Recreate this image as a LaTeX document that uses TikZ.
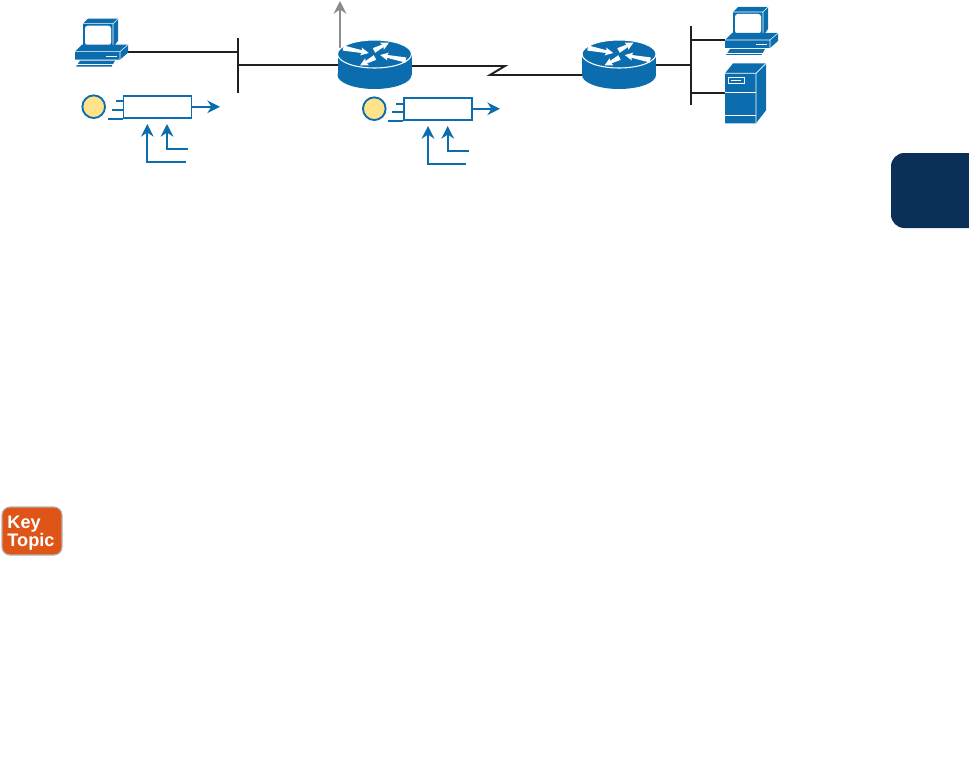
\documentclass[tikz,border=0pt]{standalone}
\usepackage{xcolor}
\usepackage{fontspec}
\setsansfont{Liberation Sans}
\usetikzlibrary{arrows.meta, positioning}
\definecolor{ciscoblue}{HTML}{0B6DAD}
\definecolor{linkblack}{HTML}{231F20}
\definecolor{markyellow}{HTML}{FFE28A}
\definecolor{keyorange}{HTML}{DF5518}
\definecolor{tabnavy}{HTML}{0A3057}
\newcommand{\routerarrow}[4]{
    \fill[white, shift={(#1,#2)}, rotate=#3] (-#4,-2.6) -- (#4-7,-1.4) -- (#4-8,-4) -- (#4,0) -- (#4-8,4) -- (#4-7,1.4) -- (-#4,2.6) -- cycle;
}
\tikzset{
    link/.style = {draw=linkblack, line width=1.45pt},
    flow/.style = {draw=ciscoblue, line width=1.4pt},
    arrow/.style = {flow, -{Stealth[length=9.5pt, width=9.5pt]}},
    uparrow/.style = {draw=black!45, line width=1.4pt, -{Stealth[length=9.5pt, width=9.5pt]}},
    policer/.style = {rectangle, draw=ciscoblue, fill=white, line width=1.4pt, inner sep=0pt, minimum width=51pt, minimum height=16.5pt},
    marker/.style = {circle, draw=ciscoblue, fill=markyellow, line width=1.4pt, inner sep=0pt, minimum size=17pt},
    keybox/.style = {rectangle, rounded corners=6pt, draw=black!30, fill=keyorange, line width=0.8pt, minimum width=45pt, minimum height=36pt},
    keytext/.style = {text=white, inner sep=0pt, font=\sffamily\bfseries\fontsize{13.6}{12.5}\selectfont},
    router/.pic = {
        \fill[ciscoblue] (0,21) ellipse [x radius=37, y radius=14];
        \fill[ciscoblue] (-37,0) rectangle (37,21);
        \fill[ciscoblue, draw=white, line width=0.8pt] (0,0) ellipse [x radius=37, y radius=14];
        \routerarrow{-18.5}{-3.5}{-11}{13}
        \routerarrow{7}{-7.5}{28}{8.5}
        \routerarrow{-7}{7.5}{208}{8.5}
        \routerarrow{18.5}{3.5}{169}{13}
    },
    pcicon/.pic = {
        % monitor
        \fill[ciscoblue] (8,-28) -- (13,-33) -- (43,-33) -- (43,-11) -- (38,-4) -- (8,-4) -- cycle;
        \draw[white, line width=0.4pt] (8,-28) -- (38,-28) -- (43,-33) (38,-28) -- (38,-5);
        \fill[white, rounded corners=2pt] (10,-26) rectangle (36,-6.5);
        % base
        \fill[ciscoblue] (0,0) -- (7,-7) -- (53,-7) -- (53,1) -- (45,8) -- (0,8) -- cycle;
        \draw[white, line width=0.4pt] (0,0) -- (45,0) -- (53,-7) (45,0) -- (45,8);
        \draw[white, line width=0.7pt] (31,4.5) -- (42,4.5);
        % keyboard
        \fill[ciscoblue] (5,9) -- (40,9) -- (36.5,15) -- (1,15) -- cycle;
        \draw[white, line width=0.5pt] (1.5,13) -- (38,13);
    },
    servericon/.pic = {
        \fill[ciscoblue] (0,10) -- (8,0) -- (41,0) -- (41,47) -- (31,60) -- (0,60) -- cycle;
        \draw[white, line width=0.5pt] (0,10) -- (31,10) -- (41,0) (31,10) -- (31,60);
        \draw[white, line width=0.6pt] (0,29.5) -- (31,29.5) (0,52.5) -- (31,52.5);
        \draw[white, line width=0.6pt] (3,14) rectangle (19,20);
        \fill[white] (6,16.5) rectangle (16,17.5);
    }
}
\begin{document}
\begin{tikzpicture}[x=0.75pt, y=-0.75pt]
\useasboundingbox (0,0) rectangle (969,767);

% ports
\coordinate (pcAport) at (128,52);
\coordinate (busAtop) at (238,38);
\coordinate (busAbot) at (238,92.7);
\coordinate (routerAwest) at (338,65);
\coordinate (routerAeast) at (411,66);
\coordinate (routerAtop) at (340,48);
\coordinate (upout) at (340,1);
\coordinate (zigA) at (505,66);
\coordinate (zigB) at (490,75);
\coordinate (routerBwest) at (582,75);
\coordinate (routerBeast) at (655,65);
\coordinate (busBtop) at (691,26);
\coordinate (busBbot) at (691,105);
\coordinate (pcBport) at (725,40);
\coordinate (serverport) at (725,93);

% connectors
\draw [link] (busAtop) -- (busAbot);
\draw [link] (pcAport) -- (busAtop |- pcAport);
\draw [link] (busAtop |- routerAwest) -- (routerAwest);
\draw [link] (routerAeast) -- (zigA) -- (zigB) -- (routerBwest);
\draw [link] (busBtop) -- (busBbot);
\draw [link] (routerBeast) -- (busBtop |- routerBeast);
\draw [link] (busBtop |- pcBport) -- (pcBport);
\draw [link] (busBtop |- serverport) -- (serverport);
\draw [uparrow] (routerAtop) -- (upout);

% devices
\pic at (75,51.7) {pcicon};
\pic at (725,40) {pcicon};
\pic at (725,63.3) {servericon};
\pic at (374.5,54) {router};
\pic at (619,54) {router};

% first policer
\node (markA) [marker] at (93.7,106.7) {};
\node (boxA) [policer] at (157.5,106.8) {};
\coordinate (outA) at (220,106.8);
\coordinate (stubAa) at (116,101.3);
\coordinate (stubAb) at (112,109.7);
\coordinate (stubAc) at (108,117.7);
\coordinate (longA) at (186,162);
\coordinate (shortA) at (188,149);
\coordinate (tipA) at (147.3,124);
\coordinate (tipAb) at (167,124);
\draw [arrow] (boxA) -- (outA);
\draw [flow] (stubAa) -- (boxA.west |- stubAa);
\draw [flow] (stubAb) -- (boxA.west |- stubAb);
\draw [flow] (stubAc |- boxA.south) -- (boxA.south west);
\draw [arrow] (longA) -| (tipA);
\draw [arrow] (shortA) -| (tipAb);

% second policer
\node (markB) [marker] at (374.3,108.7) {};
\node (boxB) [policer] at (438,108.8) {};
\coordinate (outB) at (500,108.8);
\coordinate (stubBa) at (396,104);
\coordinate (stubBb) at (392,112);
\coordinate (stubBc) at (388,120);
\coordinate (longB) at (466,164);
\coordinate (shortB) at (469,151);
\coordinate (tipB) at (428,126);
\coordinate (tipBb) at (447.7,126);
\draw [arrow] (boxB) -- (outB);
\draw [flow] (stubBa) -- (boxB.west |- stubBa);
\draw [flow] (stubBb) -- (boxB.west |- stubBb);
\draw [flow] (stubBc |- boxB.south) -- (boxB.south west);
\draw [arrow] (longB) -| (tipB);
\draw [arrow] (shortB) -| (tipBb);

% page furniture
\fill[tabnavy] (969,153) [rounded corners=10pt] -- (891,153) -- (891,228) [sharp corners] -- (969,228) -- cycle;
\node (keytopic) [keybox] at (32,531) {};
\node (keylabel) [keytext, align=left] at (31,533) {Key\\[-0.5pt]Topic};
\end{tikzpicture}
\end{document}
